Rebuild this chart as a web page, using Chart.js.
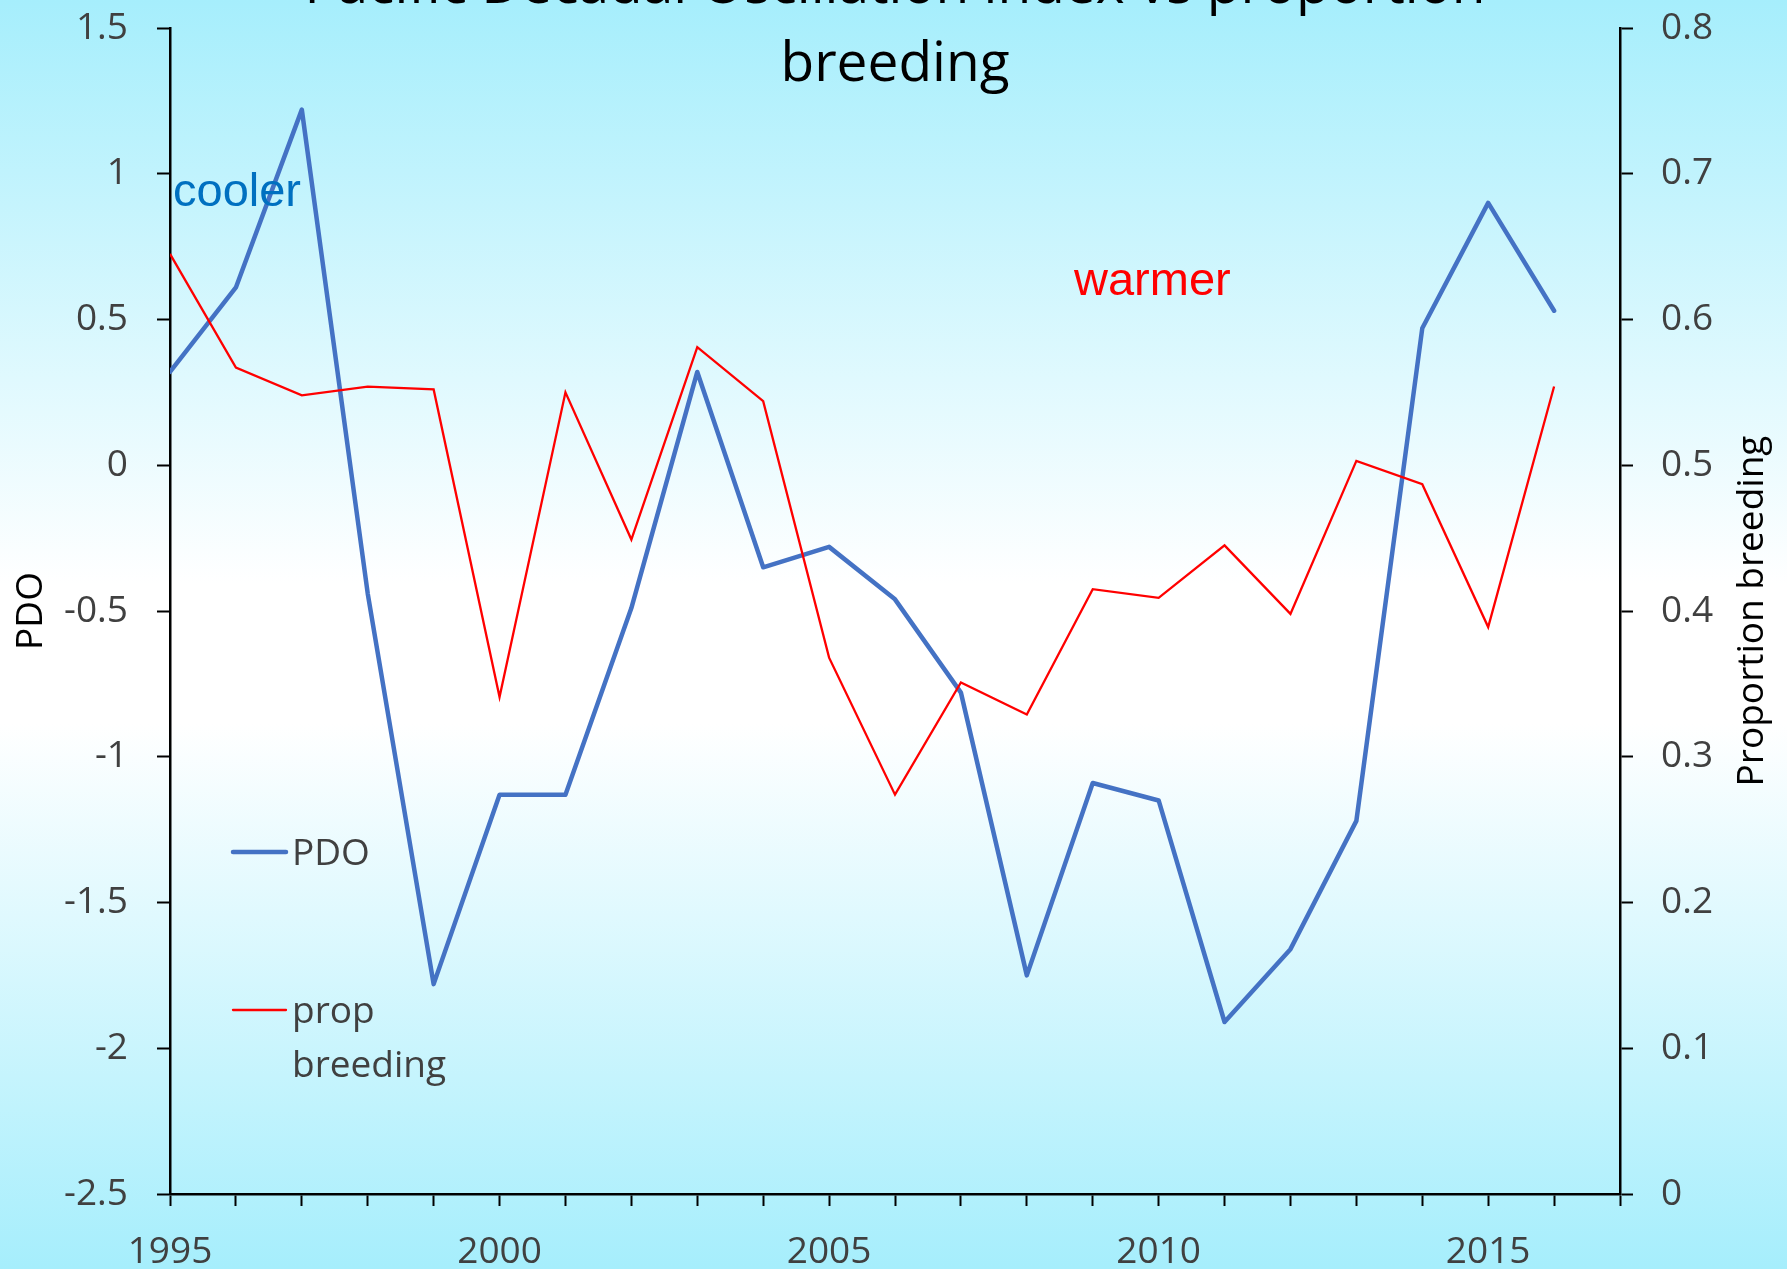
<!DOCTYPE html>
<html>
<head>
<meta charset="utf-8">
<title>Pacific Decadal Oscillation index vs proportion breeding</title>
<script src="https://cdn.jsdelivr.net/npm/chart.js@4/dist/chart.umd.min.js"></script>
<style>
  html, body { margin: 0; padding: 0; background: #ffffff; }
  #wrap { width: 1787px; height: 1269px; }
</style>
</head>
<body>
<div id="wrap"><canvas id="chart" width="1787" height="1269"></canvas></div>
<script>
// Survey years
const years = [1995, 1996, 1997, 1998, 1999, 2000, 2001, 2002, 2003, 2004, 2005,
               2006, 2007, 2008, 2009, 2010, 2011, 2012, 2013, 2014, 2015, 2016];

// Pacific Decadal Oscillation index (left axis)
const pdo = [0.32, 0.61, 1.22, -0.44, -1.78, -1.13, -1.13, -0.49, 0.32, -0.35, -0.28,
             -0.46, -0.78, -1.75, -1.09, -1.15, -1.91, -1.66, -1.22, 0.47, 0.90, 0.53];

// Proportion of the population breeding (right axis)
const propBreeding = [0.645, 0.567, 0.548, 0.554, 0.552, 0.341, 0.550, 0.449, 0.581, 0.544, 0.368,
                      0.274, 0.351, 0.329, 0.415, 0.409, 0.445, 0.398, 0.503, 0.487, 0.389, 0.554];

const seriesLabels = ['PDO', 'prop breeding'];
const titleLines = ['Pacific Decadal Oscillation index vs proportion', 'breeding'];
const leftAxisTitle = 'PDO';
const rightAxisTitle = 'Proportion breeding';
const notes = [
  { text: 'cooler', color: '#0070C0' },
  { text: 'warmer', color: '#FF0000' }
];

const FONT = '"Open Sans", "Noto Sans", sans-serif';
const AXIS_GREY = '#404040';

const toPoints = (xs, ys) => xs.map((x, i) => ({ x: x, y: ys[i] }));
const fmt = v => { const r = Math.round(v * 10) / 10; return String(r === 0 ? 0 : r); };

// fixed axis band sizes; label overhang is allowed to spill past the plot edges
const fixWidth = w => s => { s.width = w; s.paddingTop = 0; s.paddingBottom = 0; };
const fixHeight = h => s => { s.height = h; s.paddingLeft = 0; s.paddingRight = 0; };

// Sky-blue to white to sky-blue vertical wash behind everything
const backdrop = {
  id: 'backdrop',
  beforeDraw(chart) {
    const { ctx, width, height } = chart;
    const g = ctx.createLinearGradient(0, 0, 0, height);
    g.addColorStop(0, '#a6eefc');
    g.addColorStop(0.46, '#ffffff');
    g.addColorStop(0.57, '#ffffff');
    g.addColorStop(1, '#a6eefc');
    ctx.save();
    ctx.fillStyle = g;
    ctx.fillRect(0, 0, width, height);
    ctx.restore();
  }
};

// Title, right-hand axis title, the two text notes and the in-plot legend
const decorations = {
  id: 'decorations',
  afterDraw(chart) {
    const { ctx, chartArea } = chart;
    const cx = (chartArea.left + chartArea.right) / 2;
    ctx.save();

    // two-line title, first line running off the top edge
    ctx.fillStyle = '#000000';
    ctx.font = '55px ' + FONT;
    ctx.textAlign = 'center';
    ctx.textBaseline = 'alphabetic';
    ctx.fillText(titleLines[0], cx, chartArea.top - 25);
    ctx.fillText(titleLines[1], cx, chartArea.top + 53);

    // right axis title, reading bottom to top
    const yMid = (chartArea.top + chartArea.bottom) / 2;
    ctx.save();
    ctx.translate(1752, yMid);
    ctx.rotate(-Math.PI / 2);
    ctx.font = '37px ' + FONT;
    ctx.textAlign = 'center';
    ctx.textBaseline = 'middle';
    ctx.fillStyle = '#000000';
    ctx.fillText(rightAxisTitle, 0, 0);
    ctx.restore();

    // notes
    ctx.font = '47px "Liberation Sans", Arial, sans-serif';
    ctx.textAlign = 'left';
    ctx.textBaseline = 'alphabetic';
    ctx.fillStyle = notes[0].color;
    ctx.fillText(notes[0].text, chartArea.left + 3, chartArea.top + 178);
    ctx.fillStyle = notes[1].color;
    ctx.fillText(notes[1].text, chartArea.left + 904, chartArea.top + 267);

    // legend inside the plot
    const lx0 = chartArea.left + 63, lx1 = chartArea.left + 116, tx = chartArea.left + 122;
    const rows = [chartArea.top + 824, chartArea.top + 982];
    ctx.font = '37px ' + FONT;
    ctx.textBaseline = 'middle';
    chart.data.datasets.forEach((ds, i) => {
      const y = rows[ds.legendRow];
      ctx.strokeStyle = ds.borderColor;
      ctx.lineWidth = ds.borderWidth;
      ctx.lineCap = 'round';
      ctx.beginPath();
      ctx.moveTo(lx0, y);
      ctx.lineTo(lx1, y);
      ctx.stroke();
      ctx.fillStyle = AXIS_GREY;
      // wrap long labels word by word
      const words = ds.label.split(' ');
      const lines = [];
      let cur = '';
      words.forEach(w => {
        const trial = cur ? cur + ' ' + w : w;
        if (cur && ctx.measureText(trial).width > 170) { lines.push(cur); cur = w; }
        else cur = trial;
      });
      lines.push(cur);
      lines.forEach((ln, k) => ctx.fillText(ln, tx, y + 2 + k * 54));
    });
    ctx.restore();
  }
};

new Chart(document.getElementById('chart'), {
  type: 'line',
  data: {
    datasets: [
      {
        label: seriesLabels[0],
        data: toPoints(years, pdo),
        yAxisID: 'y',
        borderColor: '#4472C4',
        backgroundColor: '#4472C4',
        borderWidth: 4.5,
        borderCapStyle: 'round',
        borderJoinStyle: 'round',
        pointRadius: 0,
        tension: 0,
        order: 1,
        legendRow: 0
      },
      {
        label: seriesLabels[1],
        data: toPoints(years, propBreeding),
        yAxisID: 'y1',
        borderColor: '#FF0000',
        backgroundColor: '#FF0000',
        borderWidth: 2.3,
        borderJoinStyle: 'miter',
        pointRadius: 0,
        tension: 0,
        order: 0,
        legendRow: 1
      }
    ]
  },
  options: {
    responsive: false,
    animation: false,
    devicePixelRatio: 1,
    layout: { padding: { top: 28, left: 0, right: 0, bottom: 0 } },
    plugins: {
      legend: { display: false },
      title: { display: false },
      tooltip: { enabled: false }
    },
    scales: {
      x: {
        type: 'linear',
        position: 'bottom',
        min: 1995,
        max: 2017,
        afterFit: fixHeight(75),
        afterBuildTicks: s => { s.ticks = years.concat([2017]).map(v => ({ value: v })); },
        ticks: {
          stepSize: 1,
          autoSkip: false,
          maxRotation: 0,
          padding: 24,
          color: AXIS_GREY,
          font: { family: FONT, size: 37 },
          callback: v => (v % 5 === 0 ? String(v) : '')
        },
        grid: { drawOnChartArea: false, drawTicks: true, tickLength: 12, tickColor: '#000000', tickWidth: 2 },
        border: { display: true, color: '#000000', width: 2.5 }
      },
      y: {
        type: 'linear',
        position: 'left',
        min: -2.5,
        max: 1.5,
        afterFit: fixWidth(170),
        ticks: {
          stepSize: 0.5,
          padding: 29,
          color: AXIS_GREY,
          font: { family: FONT, size: 37 },
          callback: fmt
        },
        grid: { drawOnChartArea: false, drawTicks: true, tickLength: 13, tickColor: '#000000', tickWidth: 2 },
        border: { display: true, color: '#000000', width: 2.5 },
        title: {
          display: true,
          text: leftAxisTitle,
          color: '#000000',
          font: { family: FONT, size: 37 },
          padding: { top: 9, bottom: 0 }
        }
      },
      y1: {
        type: 'linear',
        position: 'right',
        min: 0,
        max: 0.8,
        afterFit: fixWidth(167),
        ticks: {
          stepSize: 0.1,
          padding: 28,
          color: AXIS_GREY,
          font: { family: FONT, size: 37 },
          callback: fmt
        },
        grid: { drawOnChartArea: false, drawTicks: true, tickLength: 13, tickColor: '#000000', tickWidth: 2 },
        border: { display: true, color: '#000000', width: 2.5 },
        title: { display: false }
      }
    }
  },
  plugins: [backdrop, decorations]
});
</script>
</body>
</html>
